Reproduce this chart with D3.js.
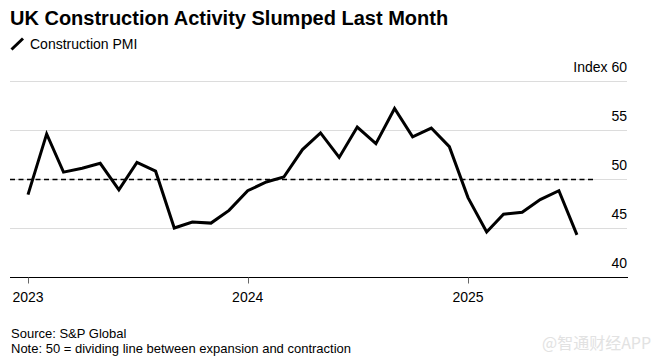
<!DOCTYPE html>
<html>
<head>
<meta charset="utf-8">
<script src="https://cdn.jsdelivr.net/npm/d3@7"></script>
<style>
  body { margin: 0; background: #fff; }
  svg { font-family: "Liberation Sans", Arial, sans-serif; display: block; }
</style>
</head>
<body>
<div id="chart"></div>
<script>
// monthly construction PMI, Jan 2023 .. Jul 2025
const months = d3.timeMonths(new Date(2023, 0, 1), new Date(2025, 7, 1));
const pmi = [
  48.4, 54.6, 50.7, 51.1, 51.6, 48.9, 51.7, 50.8, 45.0, 45.6, 45.5, 46.8,
  48.8, 49.7, 50.2, 53.0, 54.7, 52.2, 55.3, 53.6, 57.2, 54.3, 55.2, 53.3,
  48.1, 44.6, 46.4, 46.6, 47.9, 48.8, 44.3
];
const yTicks = [40, 45, 50, 55, 60];
const xTicks = [new Date(2023, 0, 1), new Date(2024, 0, 1), new Date(2025, 0, 1)];

const width = 653, height = 364;
const left = 10, right = 627;

const svg = d3.select("#chart").append("svg")
    .attr("width", width)
    .attr("height", height);

const x = d3.scaleTime()
    .domain([new Date(2023, 0, 1), new Date(2025, 0, 1)])
    .range([28, 468]);

const y = d3.scaleLinear()
    .domain([40, 60])
    .range([277, 81]);

// title + legend
svg.append("text")
    .attr("x", 10).attr("y", 25)
    .style("font-size", "20px")
    .style("font-weight", "bold")
    .text("UK Construction Activity Slumped Last Month");

svg.append("line")
    .attr("x1", 11.5).attr("y1", 49.5)
    .attr("x2", 23).attr("y2", 38.5)
    .attr("stroke", "#000")
    .attr("stroke-width", 3);

svg.append("text")
    .attr("x", 30).attr("y", 49)
    .style("font-size", "14px")
    .text("Construction PMI");

// gridlines
svg.append("g").selectAll("line")
    .data(yTicks.filter(d => d > 40))
    .enter().append("line")
    .attr("x1", left).attr("x2", right)
    .attr("y1", d => y(d) + 0.5).attr("y2", d => y(d) + 0.5)
    .attr("stroke", "#dcdcdc")
    .attr("stroke-width", 1);

svg.append("g").selectAll("text")
    .data(yTicks)
    .enter().append("text")
    .attr("x", right)
    .attr("y", d => y(d) - 9)
    .attr("text-anchor", "end")
    .style("font-size", "14px")
    .text(d => d === 60 ? "Index 60" : d);

// 50 line
svg.append("line")
    .attr("x1", left).attr("x2", 594)
    .attr("y1", y(50) + 0.5).attr("y2", y(50) + 0.5)
    .attr("stroke", "#000")
    .attr("stroke-width", 1.5)
    .attr("stroke-dasharray", "5,3.5");

// x axis
const xAxis = svg.append("g")
    .attr("transform", `translate(0,${y(40) + 0.5})`);

xAxis.append("line")
    .attr("x1", left).attr("x2", right + 1)
    .attr("stroke", "#000");

xAxis.selectAll(".tick")
    .data(xTicks)
    .enter().append("line")
    .attr("x1", d => Math.round(x(d)) + 0.5).attr("x2", d => Math.round(x(d)) + 0.5)
    .attr("y1", 0).attr("y2", 6)
    .attr("stroke", "#666");

xAxis.selectAll(".lbl")
    .data(xTicks)
    .enter().append("text")
    .attr("x", d => x(d))
    .attr("y", 24.5)
    .attr("text-anchor", "middle")
    .style("font-size", "14px")
    .text(d => d3.timeFormat("%Y")(d));

// series
const line = d3.line()
    .x((d, i) => x(months[i]))
    .y(d => y(d));

svg.append("path")
    .datum(pmi)
    .attr("fill", "none")
    .attr("stroke", "#000")
    .attr("stroke-width", 3)
    .attr("stroke-linejoin", "miter")
    .attr("d", line);

// footer
svg.append("text")
    .attr("x", 11).attr("y", 338)
    .style("font-size", "13px")
    .text("Source: S&P Global");

svg.append("text")
    .attr("x", 11).attr("y", 353)
    .style("font-size", "13px")
    .text("Note: 50 = dividing line between expansion and contraction");

svg.append("text")
    .attr("x", 542).attr("y", 349)
    .style("font-family", "'Noto Sans CJK SC', sans-serif")
    .style("font-size", "16px")
    .style("fill", "#e2e2e2")
    .text("@智通财经APP");
</script>
</body>
</html>
